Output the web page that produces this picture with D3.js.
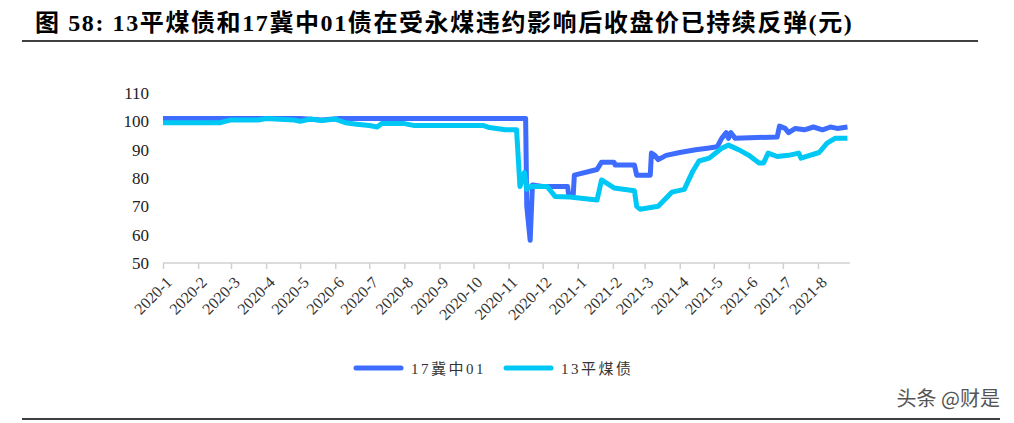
<!DOCTYPE html><html><head><meta charset="utf-8">
<script src="https://cdn.jsdelivr.net/npm/d3@7"></script>
<style>body{margin:0;background:#fff}</style></head><body><svg id="c" width="1014" height="423"></svg>
<script>
const tickLabels=["2020-1","2020-2","2020-3","2020-4","2020-5","2020-6","2020-7","2020-8","2020-9","2020-10","2020-11","2020-12","2021-1","2021-2","2021-3","2021-4","2021-5","2021-6","2021-7","2021-8"];
const yTicks=[50,60,70,80,90,100,110];
const jizhongDates=["2020-01-01","2020-05-01","2020-05-20","2020-06-05","2020-11-16","2020-11-17","2020-11-20","2020-11-22","2020-12-01","2020-12-23","2020-12-24","2020-12-28","2020-12-29","2021-01-18","2021-01-22","2021-02-02","2021-02-03","2021-02-20","2021-02-22","2021-03-06","2021-03-07","2021-03-10","2021-03-13","2021-03-20","2021-04-01","2021-04-15","2021-04-27","2021-05-04","2021-05-08","2021-05-12","2021-05-14","2021-05-16","2021-05-20","2021-06-26","2021-06-28","2021-07-03","2021-07-06","2021-07-12","2021-07-20","2021-07-28","2021-08-05","2021-08-12","2021-08-18","2021-08-27"];
const jizhongVals=[101,101,100.5,101,101,70,58,77.5,77,77,74,74,81,83,85.6,85.6,84.6,84.6,81,81,88.8,88,86.5,88,89,90,90.6,91,94,96,94,96,94,94.5,98.3,97.5,96,97.5,97,98,97,98,97.5,98];
const pingmeiDates=["2020-01-01","2020-02-20","2020-03-01","2020-03-25","2020-04-01","2020-04-25","2020-05-01","2020-05-10","2020-05-20","2020-06-01","2020-06-10","2020-06-20","2020-07-01","2020-07-08","2020-07-12","2020-08-01","2020-08-10","2020-10-10","2020-10-15","2020-10-29","2020-11-08","2020-11-11","2020-11-15","2020-11-17","2020-11-20","2020-12-05","2020-12-12","2020-12-25","2021-01-18","2021-01-22","2021-02-02","2021-02-20","2021-02-22","2021-02-25","2021-03-13","2021-03-25","2021-04-05","2021-04-12","2021-04-18","2021-04-27","2021-05-08","2021-05-14","2021-05-23","2021-06-01","2021-06-10","2021-06-14","2021-06-18","2021-06-26","2021-07-06","2021-07-15","2021-07-17","2021-08-02","2021-08-09","2021-08-16","2021-08-27"];
const pingmeiVals=[99.5,99.5,100.5,100.5,101,100.5,100,100.8,100.3,100.8,99.5,99,98.5,98,99.2,99.2,98.5,98.5,97.8,97,97,77,82,76,77,77,73.5,73.3,72.2,79.3,76.5,75.5,70,69,70,75,76,82,86,87,90.5,91.6,90,88,85.3,85.3,88.8,87.6,88,88.8,87,89,92.3,94,94];
const svg=d3.select("#c");
const font="'Liberation Serif','Times New Roman',serif";
svg.append("text").attr("x",35).attr("y",31).attr("font-family","'Liberation Serif','Noto Sans CJK SC',serif").attr("font-weight","bold").attr("font-size",24).attr("letter-spacing",1.6).attr("fill","#000").text("图 58: 13平煤债和17冀中01债在受永煤违约影响后收盘价已持续反弹(元)");
svg.append("line").attr("x1",22).attr("x2",978).attr("y1",41).attr("y2",41).attr("stroke","#000").attr("stroke-width",1.5);
svg.append("line").attr("x1",22).attr("x2",1000).attr("y1",419).attr("y2",419).attr("stroke","#000").attr("stroke-width",1.5);
const pd=d3.timeParse("%Y-%m-%d");
const x=d3.scaleTime().domain([pd("2020-01-01"),pd("2021-08-01")]).range([163,818]);
const y=d3.scaleLinear().domain([50,110]).range([263,93]);
yTicks.forEach(v=>svg.append("text").attr("x",149).attr("y",y(v)+6).attr("text-anchor","end").attr("font-family",font).attr("font-size",17).attr("fill","#222").text(v));
const tickDates=tickLabels.map(t=>pd(t+"-01"));
const ax=svg.append("g").attr("transform","translate(0,263)").call(d3.axisBottom(x).tickValues(tickDates).tickSize(6).tickFormat((d,i)=>tickLabels[i]));
ax.select(".domain").attr("stroke","#d0d0d0").attr("stroke-width",1.5).attr("d","M163,0H850");
ax.selectAll(".tick line").attr("stroke","#d0d0d0").attr("stroke-width",1.5);
ax.selectAll(".tick text").attr("font-family",font).attr("font-size",16).attr("fill","#333").attr("text-anchor","end").attr("dx",0).attr("dy",0).attr("transform","translate(3,14) rotate(-45)");
const line=d3.line().x(d=>x(d[0])).y(d=>y(d[1]));
const s1=jizhongDates.map((d,i)=>[pd(d),jizhongVals[i]]);
const s2=pingmeiDates.map((d,i)=>[pd(d),pingmeiVals[i]]);
svg.append("path").attr("d",line(s1)).attr("fill","none").attr("stroke","#3d6cff").attr("stroke-width",5).attr("stroke-linejoin","round");
svg.append("path").attr("d",line(s2)).attr("fill","none").attr("stroke","#00c8f5").attr("stroke-width",5).attr("stroke-linejoin","round");
const leg=[["17冀中01","#3d6cff",356],["13平煤债","#00c8f5",506]];
leg.forEach(l=>{svg.append("line").attr("x1",l[2]).attr("x2",l[2]+45).attr("y1",368).attr("y2",368).attr("stroke",l[1]).attr("stroke-width",5).attr("stroke-linecap","round");
svg.append("text").attr("x",l[2]+55).attr("y",374).attr("font-family","'Liberation Serif','Noto Sans CJK SC',serif").attr("font-size",15).attr("fill","#333").attr("letter-spacing",2.5).text(l[0]);});
svg.append("text").attr("x",1000).attr("y",406).attr("text-anchor","end").attr("font-family","'Noto Sans CJK SC',sans-serif").attr("font-size",20).attr("fill","#555").text("头条 @财是");
</script></body></html>
